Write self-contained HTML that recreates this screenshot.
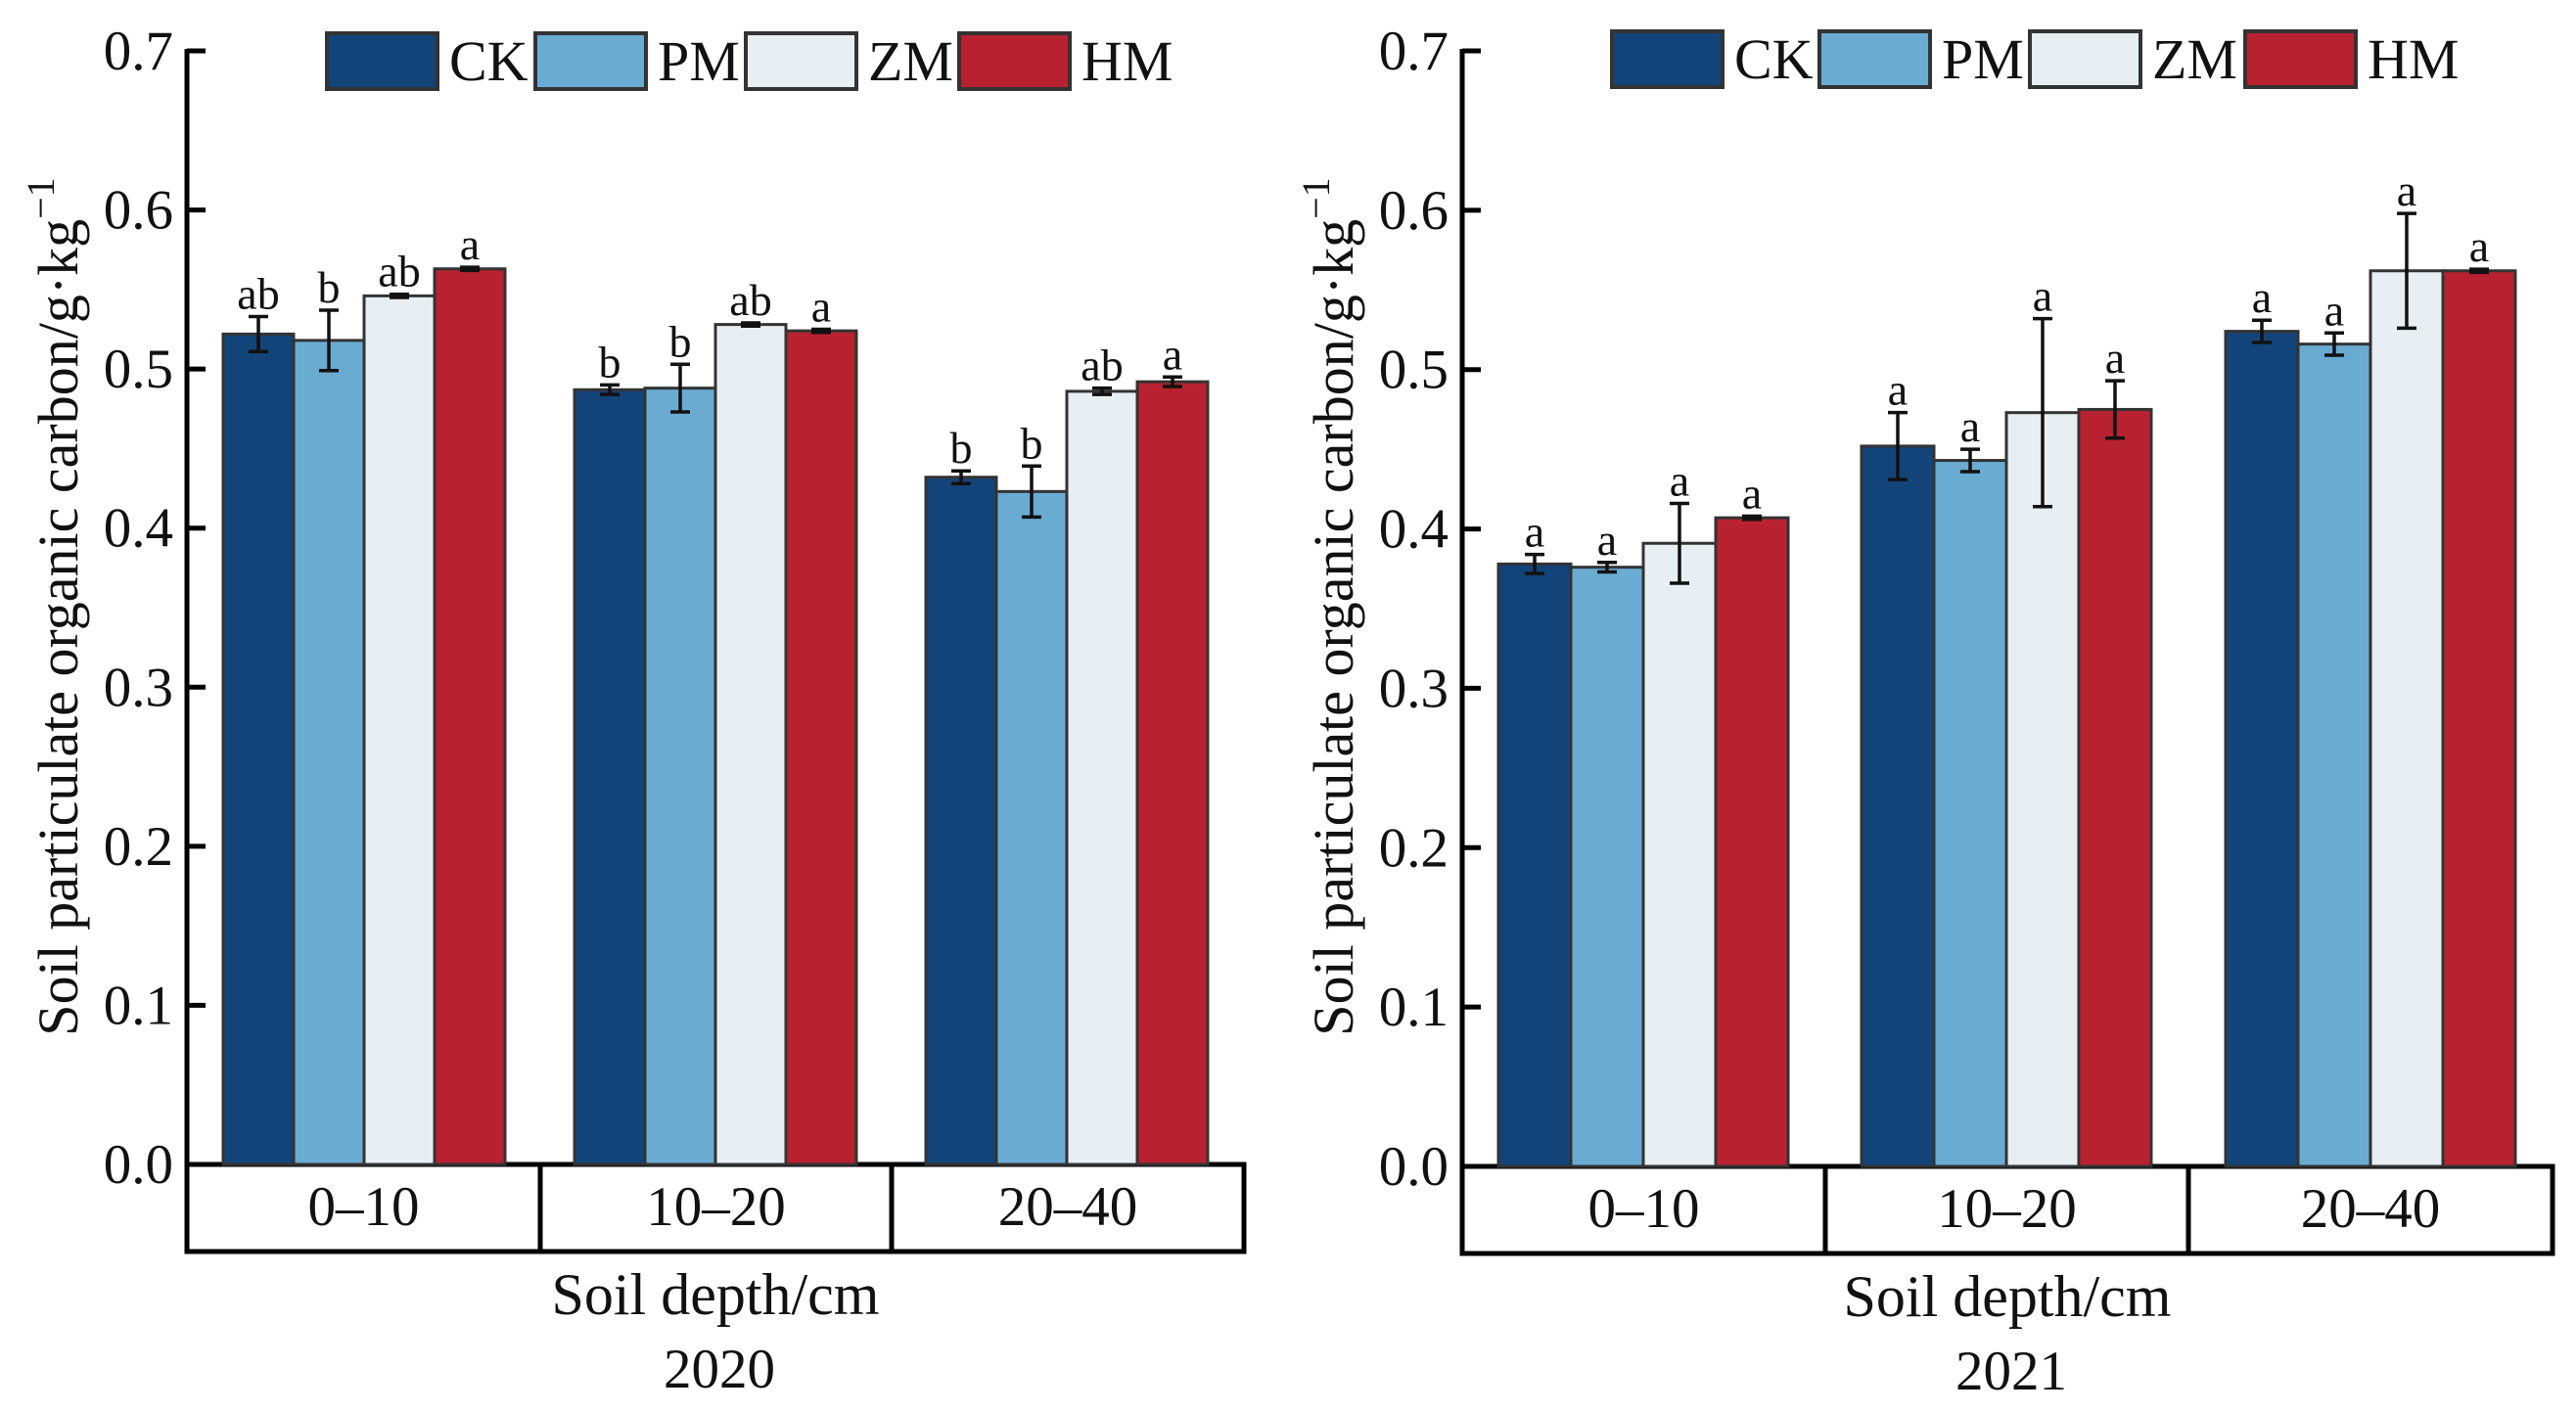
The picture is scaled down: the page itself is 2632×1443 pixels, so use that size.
<!DOCTYPE html>
<html><head><meta charset="utf-8"><style>
html,body{margin:0;padding:0;background:#fff;}
svg{display:block;font-family:"Liberation Serif",serif;}
</style></head><body>
<svg id="chart" width="2632" height="1443" viewBox="0 0 2632 1443" xmlns="http://www.w3.org/2000/svg"></svg>
<script>
const categories = ["0–10", "10–20", "20–40"];
const seriesNames = ["CK", "PM", "ZM", "HM"];
const yTicks = [0.0, 0.1, 0.2, 0.3, 0.4, 0.5, 0.6, 0.7];
const ck2020 = [0.522, 0.487, 0.432];
const pm2020 = [0.518, 0.488, 0.423];
const zm2020 = [0.546, 0.528, 0.486];
const hm2020 = [0.563, 0.524, 0.492];
const ckErr2020 = [0.011, 0.003, 0.004];
const pmErr2020 = [0.019, 0.015, 0.016];
const zmErr2020 = [0.001, 0.001, 0.002];
const hmErr2020 = [0.001, 0.001, 0.003];
const letters2020 = [["ab","b","ab","a"],["b","b","ab","a"],["b","b","ab","a"]];
const ck2021 = [0.378, 0.452, 0.524];
const pm2021 = [0.376, 0.443, 0.516];
const zm2021 = [0.391, 0.473, 0.562];
const hm2021 = [0.407, 0.475, 0.562];
const ckErr2021 = [0.006, 0.021, 0.007];
const pmErr2021 = [0.003, 0.007, 0.007];
const zmErr2021 = [0.025, 0.059, 0.036];
const hmErr2021 = [0.001, 0.018, 0.001];
const letters2021 = [["a","a","a","a"],["a","a","a","a"],["a","a","a","a"]];

const colors = ["#134479", "#6aabd2", "#e8eff3", "#b82230"];
const svg = document.getElementById('chart');
const NS = "http://www.w3.org/2000/svg";
function mk(tag, attrs, parent, text){
  const e = document.createElementNS(NS, tag);
  for (const k in attrs) e.setAttribute(k, attrs[k]);
  if (text !== undefined) e.textContent = text;
  (parent || svg).appendChild(e);
  return e;
}

function panel(p){
  const g = mk('g', {});
  
  
  const yScale = v => p.y0 - (v / 0.7) * (p.y0 - p.y7);
  yTicks.forEach(t => {
    const y = yScale(t);
    const l = mk('line', {x1: p.ax, x2: p.ax + 19, y1: y, y2: y, stroke: '#000', 'stroke-width': 5}, g);
    
    
    const tx = mk('text', {x: p.ax - 14, y: y + 19, 'font-size': 57, 'text-anchor': 'end', fill: '#111'}, g, t.toFixed(1));
    
    
  });
  const ya = mk('line', {x1: p.ax, x2: p.ax, y1: p.y7 - 2, y2: p.y0, stroke: '#000', 'stroke-width': 5}, g);
  
  
  const yt = mk('text', {x: 0, y: 0, 'font-size': 58, 'text-anchor': 'middle', fill: '#111',
    transform: `translate(${p.ax - 112},${620}) rotate(-90)`}, g);
  
  
  yt.appendChild(document.createTextNode('Soil particulate organic carbon/g·kg'));
  mk('tspan', {dy: -24, 'font-size': 40}, yt, '−1');
  const box = mk('rect', {x: p.ax, y: p.y0, width: p.boxR - p.ax, height: p.boxB - p.y0, fill: '#fff', stroke: '#000', 'stroke-width': 5}, g);
  
  
  const edges = [p.ax, p.div1, p.div2, p.boxR];
  [p.div1, p.div2].forEach(x => {
    const d = mk('line', {x1: x, x2: x, y1: p.y0, y2: p.boxB, stroke: '#000', 'stroke-width': 5}, g);
    
    
  });
  categories.forEach((c, i) => {
    const t = mk('text', {x: (edges[i] + edges[i + 1]) / 2, y: p.y0 + 62, 'font-size': 57, 'text-anchor': 'middle', fill: '#111'}, g, c);
    
    
  });
  const xt = mk('text', {x: (p.ax + p.boxR) / 2, y: p.boxB + 64, 'font-size': 60, 'text-anchor': 'middle', fill: '#111'}, g, 'Soil depth/cm');
  
  
  const yr = mk('text', {x: (p.ax + p.boxR) / 2 + 4, y: p.boxB + 139, 'font-size': 57, 'text-anchor': 'middle', fill: '#111'}, g, String(p.year));
  
  
  const bw = (p.groups[0][1] - p.groups[0][0]) / 4;
  categories.forEach((c, i) => {
    p.vals.forEach((s, j) => {
      const x = p.groups[i][0] + j * bw;
      const v = s[i], e = p.errs[j][i];
      const y = yScale(v);
      const r = mk('rect', {x: x, y: y, width: bw, height: p.y0 - y, fill: colors[j], stroke: '#333', 'stroke-width': 3}, g);
      
      
      const cx = x + bw / 2, yt1 = yScale(v + e), yb = yScale(v - e);
      const eb = mk('path', {d: `M${cx},${yt1}V${yb}M${cx - 10},${yt1}H${cx + 10}M${cx - 10},${yb}H${cx + 10}`, stroke: '#111', 'stroke-width': 3.5, fill: 'none'}, g);
      
      
      const lt = mk('text', {x: cx, y: yt1 - 8, 'font-size': 46, 'text-anchor': 'middle', fill: '#111'}, g, p.letters[i][j]);
      
      
    });
  });
  seriesNames.forEach((n, j) => {
    const lx = p.legX[j];
    const r = mk('rect', {x: lx, y: p.legY, width: 113, height: 57, fill: colors[j], stroke: '#333', 'stroke-width': 4}, g);
    
    
    const t = mk('text', {x: lx + 125, y: p.legY + 48, 'font-size': 58, fill: '#111'}, g, n);
    
    
  });
}

panel({year: 2020, ax: 191, y0: 1190, y7: 52, boxR: 1271, boxB: 1279, div1: 552, div2: 911,
  groups: [[228, 516], [587, 875], [946, 1234]],
  vals: [ck2020, pm2020, zm2020, hm2020], errs: [ckErr2020, pmErr2020, zmErr2020, hmErr2020],
  letters: letters2020, legX: [334, 547, 762, 980], legY: 34});
panel({year: 2021, ax: 1494, y0: 1192, y7: 52, boxR: 2608, boxB: 1281, div1: 1865, div2: 2236,
  groups: [[1531, 1827], [1902, 2201], [2274, 2571]],
  vals: [ck2021, pm2021, zm2021, hm2021], errs: [ckErr2021, pmErr2021, zmErr2021, hmErr2021],
  letters: letters2021, legX: [1647, 1859, 2074, 2294], legY: 32});
</script>
</body></html>
